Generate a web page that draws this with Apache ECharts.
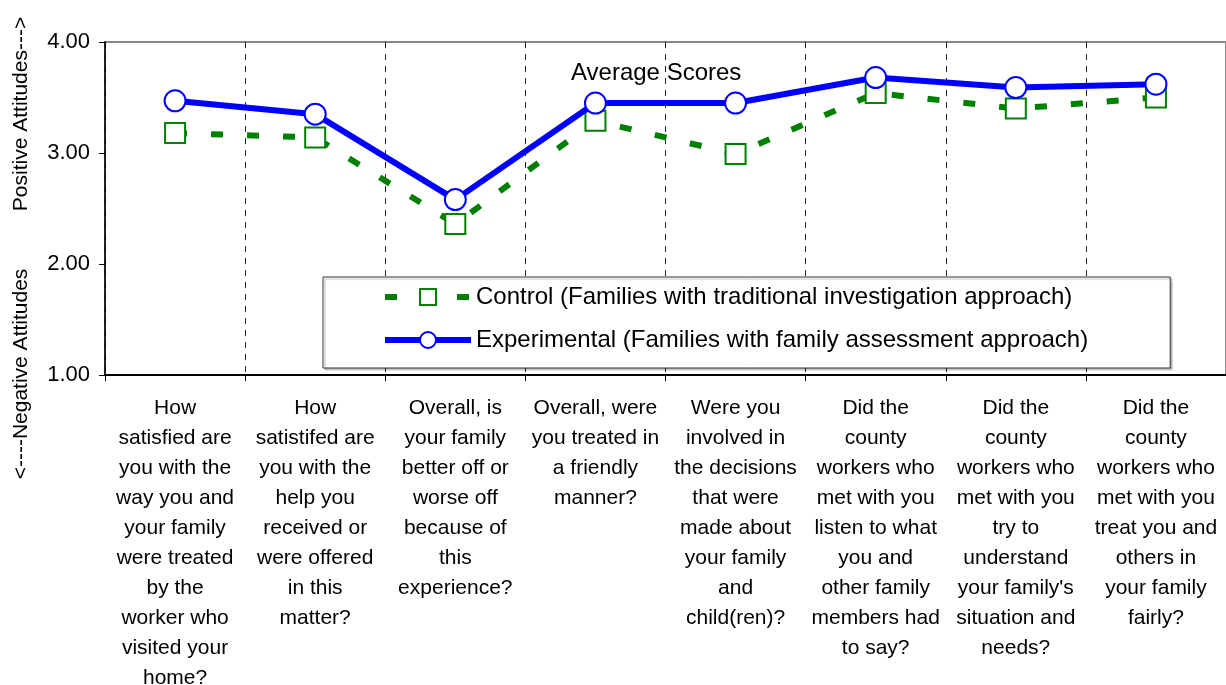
<!DOCTYPE html>
<html>
<head>
	<meta charset="UTF-8">
	<title>Average Scores</title>
	<script type="text/javascript" src="https://cdn.jsdelivr.net/npm/echarts@6.0.0/dist/echarts.min.js"></script>
	<style>
		html, body { margin: 0; padding: 0; background: #fff; }
		#chart { width: 1226px; height: 685px; }
	</style>
</head>
<body>
<div id="chart"></div>
<script>
// questions on the x axis (line breaks as in the picture)
var categories = [
	'How\nsatisfied are\nyou with the\nway you and\nyour family\nwere treated\nby the\nworker who\nvisited your\nhome?',
	'How\nsatistifed are\nyou with the\nhelp you\nreceived or\nwere offered\nin this\nmatter?',
	'Overall, is\nyour family\nbetter off or\nworse off\nbecause of\nthis\nexperience?',
	'Overall, were\nyou treated in\na friendly\nmanner?',
	'Were you\ninvolved in\nthe decisions\nthat were\nmade about\nyour family\nand\nchild(ren)?',
	'Did the\ncounty\nworkers who\nmet with you\nlisten to what\nyou and\nother family\nmembers had\nto say?',
	'Did the\ncounty\nworkers who\nmet with you\ntry to\nunderstand\nyour family\'s\nsituation and\nneeds?',
	'Did the\ncounty\nworkers who\nmet with you\ntreat you and\nothers in\nyour family\nfairly?'
];
var controlScores = [3.18, 3.14, 2.36, 3.29, 2.99, 3.54, 3.40, 3.50];
var experimentalScores = [3.47, 3.35, 2.58, 3.45, 3.45, 3.68, 3.59, 3.62];
var yTicks = { min: 1, max: 4, step: 1 };

var controlName = 'Control (Families with traditional investigation approach)';
var experimentalName = 'Experimental (Families with family assessment approach)';
var font = 'Liberation Sans, Arial, sans-serif';

var myChart = echarts.init(document.getElementById('chart'));
var option = {
	animation: false,
	textStyle: { fontFamily: font },
	title: {
		text: 'Average Scores',
		left: 571,
		top: 61,
		padding: 0,
		textStyle: { color: '#000', fontSize: 24, fontWeight: 'normal', fontFamily: font }
	},
	legend: {
		orient: 'vertical',
		left: 323,
		top: 277,
		padding: [8, 82, 16, 59],
		itemWidth: 86,
		itemHeight: 20,
		itemGap: 19,
		borderColor: '#333',
		borderWidth: 1,
		backgroundColor: '#fff',
		shadowColor: 'rgba(0,0,0,0.25)',
		shadowOffsetX: 2,
		shadowOffsetY: 2,
		shadowBlur: 1,
		selectedMode: false,
		textStyle: { color: '#000', fontSize: 24, fontFamily: font },
		data: [
			{ name: controlName, lineStyle: { width: 6, type: [12, 24] } },
			{ name: experimentalName, lineStyle: { width: 6 } }
		]
	},
	grid: {
		left: 105,
		right: 0,
		top: 42,
		bottom: 310,
		outerBoundsMode: 'none',
		containLabel: false,
		show: true,
		borderColor: '#888',
		borderWidth: 2,
		backgroundColor: 'transparent'
	},
	xAxis: {
		type: 'category',
		data: categories,
		boundaryGap: true,
		axisLine: { lineStyle: { color: '#000', width: 2 } },
		axisTick: { show: true, length: 6, lineStyle: { color: '#000' } },
		splitLine: {
			show: true,
			lineStyle: { color: '#222', width: 1, type: [6, 6] }
		},
		axisLabel: {
			interval: 0,
			margin: 18,
			color: '#000',
			fontSize: 21,
			lineHeight: 30,
			fontFamily: font,
			align: 'center'
		}
	},
	yAxis: {
		type: 'value',
		min: yTicks.min,
		max: yTicks.max,
		interval: yTicks.step,
		axisLine: { show: true, lineStyle: { color: '#000', width: 1.5 } },
		axisTick: { show: true, length: 6, lineStyle: { color: '#000' } },
		splitLine: { show: false },
		axisLabel: {
			margin: 15,
			color: '#000',
			fontSize: 22,
			fontFamily: font,
			formatter: function (v) { return v.toFixed(2); }
		}
	},
	graphic: [
		{
			type: 'text',
			x: 21,
			y: 114,
			rotation: Math.PI / 2,
			style: {
				text: 'Positive Attitudes--->',
				fill: '#000',
				fontSize: 21,
				fontFamily: font,
				align: 'center',
				verticalAlign: 'middle'
			}
		},
		{
			type: 'text',
			x: 21,
			y: 374,
			rotation: Math.PI / 2,
			style: {
				text: '<----Negative Attitudes',
				fill: '#000',
				fontSize: 21,
				fontFamily: font,
				align: 'center',
				verticalAlign: 'middle'
			}
		}
	],
	series: [
		{
			name: controlName,
			type: 'line',
			data: controlScores,
			z: 2,
			symbol: 'rect',
			symbolSize: 20,
			showAllSymbol: true,
			lineStyle: { color: '#008000', width: 6, type: [12, 24] },
			itemStyle: { color: '#fff', borderColor: '#008000', borderWidth: 2 },
			emphasis: { disabled: true }
		},
		{
			name: experimentalName,
			type: 'line',
			data: experimentalScores,
			z: 3,
			symbol: 'circle',
			symbolSize: 21,
			showAllSymbol: true,
			lineStyle: { color: '#0000ff', width: 6 },
			itemStyle: { color: '#fff', borderColor: '#0000ff', borderWidth: 2 },
			emphasis: { disabled: true }
		}
	]
};
myChart.setOption(option);
</script>
</body>
</html>
